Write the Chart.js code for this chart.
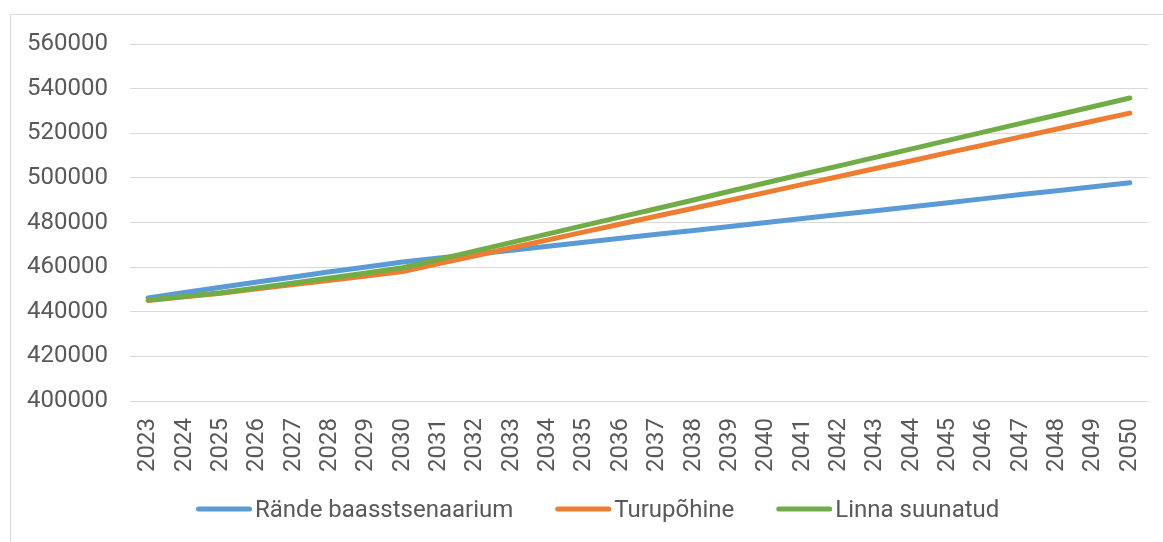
<!DOCTYPE html>
<html>
<head>
<meta charset="utf-8">
<script src="https://cdn.jsdelivr.net/npm/chart.js@4/dist/chart.umd.min.js"></script>
<style>
  html, body { margin: 0; padding: 0; background: #ffffff; overflow: hidden; }
  #wrap { position: relative; width: 1163px; height: 542px; overflow: hidden; }
  #frame { position: absolute; left: 10px; top: 14px; width: 1200px; height: 600px; border: 1px solid #d9d9d9; box-sizing: border-box; }
  canvas { position: absolute; left: 0; top: 0; }
</style>
</head>
<body>
<div id="wrap">
  <div id="frame"></div>
  <canvas id="c" width="1163" height="542"></canvas>
</div>
<script>
const years = ["2023","2024","2025","2026","2027","2028","2029","2030","2031","2032","2033","2034","2035","2036","2037","2038","2039","2040","2041","2042","2043","2044","2045","2046","2047","2048","2049","2050"];

const seriesNames = ["Rände baasstsenaarium", "Turupõhine", "Linna suunatud"];

const baseScenario = [446200, 448600, 451000, 453300, 455600, 457900, 460100, 462300, 464100, 465800, 467600, 469400, 471100, 472900, 474700, 476400, 478200, 480000, 481800, 483600, 485300, 487100, 488900, 490700, 492500, 494200, 496000, 497800];

const marketBased = [445000, 446700, 448300, 450300, 452200, 454100, 456000, 458000, 461600, 465100, 468700, 472200, 475800, 479300, 482900, 486400, 490000, 493500, 497100, 500600, 504200, 507700, 511300, 514800, 518400, 521900, 525500, 529000];

const cityDirected = [445300, 446800, 448500, 450700, 452900, 455100, 457400, 459700, 463500, 467300, 471100, 474900, 478700, 482500, 486300, 490100, 494000, 497800, 501600, 505400, 509200, 513000, 516800, 520600, 524400, 528200, 532000, 535800];

const yTickValues = [400000, 420000, 440000, 460000, 480000, 500000, 520000, 540000, 560000];

const colors = ["#5B9BD5", "#ED7D31", "#70AD47"];
const textColor = "#595959";

const customLegend = {
  id: "customLegend",
  afterDraw(chart) {
    const ctx = chart.ctx;
    let x = 196;
    const yLine = 509;
    const yText = 517;
    ctx.save();
    ctx.font = "24px Roboto";
    ctx.textBaseline = "alphabetic";
    ctx.textAlign = "left";
    const items = chart.data.datasets.slice().sort((a, b) => a.legendIndex - b.legendIndex);
    items.forEach(ds => {
      ctx.beginPath();
      ctx.strokeStyle = ds.borderColor;
      ctx.lineWidth = 5;
      ctx.lineCap = "round";
      ctx.moveTo(x + 2.5, yLine);
      ctx.lineTo(x + 53.5, yLine);
      ctx.stroke();
      const tx = x + 59;
      ctx.fillStyle = textColor;
      ctx.fillText(ds.label, tx, yText);
      const w = ctx.measureText(ds.label).width;
      x = tx + w + 42;
    });
    ctx.restore();
  }
};

new Chart(document.getElementById("c"), {
  type: "line",
  data: {
    labels: years,
    datasets: [
      { label: seriesNames[0], data: baseScenario, borderColor: colors[0], backgroundColor: colors[0], order: 3, legendIndex: 0 },
      { label: seriesNames[1], data: marketBased, borderColor: colors[1], backgroundColor: colors[1], order: 2, legendIndex: 1 },
      { label: seriesNames[2], data: cityDirected, borderColor: colors[2], backgroundColor: colors[2], order: 1, legendIndex: 2 }
    ].map(d => Object.assign(d, { borderWidth: 5, pointRadius: 0, pointHoverRadius: 0, tension: 0, fill: false, borderCapStyle: "round", borderJoinStyle: "round" }))
  },
  options: {
    responsive: false,
    animation: false,
    devicePixelRatio: 1,
    layout: { padding: { left: 0, right: 15, top: 44, bottom: 0 } },
    plugins: {
      legend: { display: false },
      tooltip: { enabled: false },
      title: { display: false }
    },
    scales: {
      x: {
        offset: true,
        border: { display: false },
        grid: { display: false, drawTicks: false },
        ticks: {
          autoSkip: false,
          maxRotation: 90,
          minRotation: 90,
          padding: 17,
          color: textColor,
          font: { family: "Roboto", size: 24 }
        },
        afterFit(axis) { axis.height = 141; axis.paddingLeft = 0; axis.paddingRight = 0; }
      },
      y: {
        min: yTickValues[0],
        max: yTickValues[yTickValues.length - 1],
        border: { display: false },
        grid: { color: "#d9d9d9", lineWidth: 1, drawTicks: false },
        afterBuildTicks(axis) { axis.ticks = yTickValues.map(v => ({ value: v })); },
        ticks: {
          padding: 22,
          color: textColor,
          font: { family: "Roboto", size: 24 },
          callback: v => String(v)
        },
        afterFit(axis) { axis.width = 130; axis.paddingTop = 0; axis.paddingBottom = 0; }
      }
    }
  },
  plugins: [customLegend]
});
</script>
</body>
</html>
